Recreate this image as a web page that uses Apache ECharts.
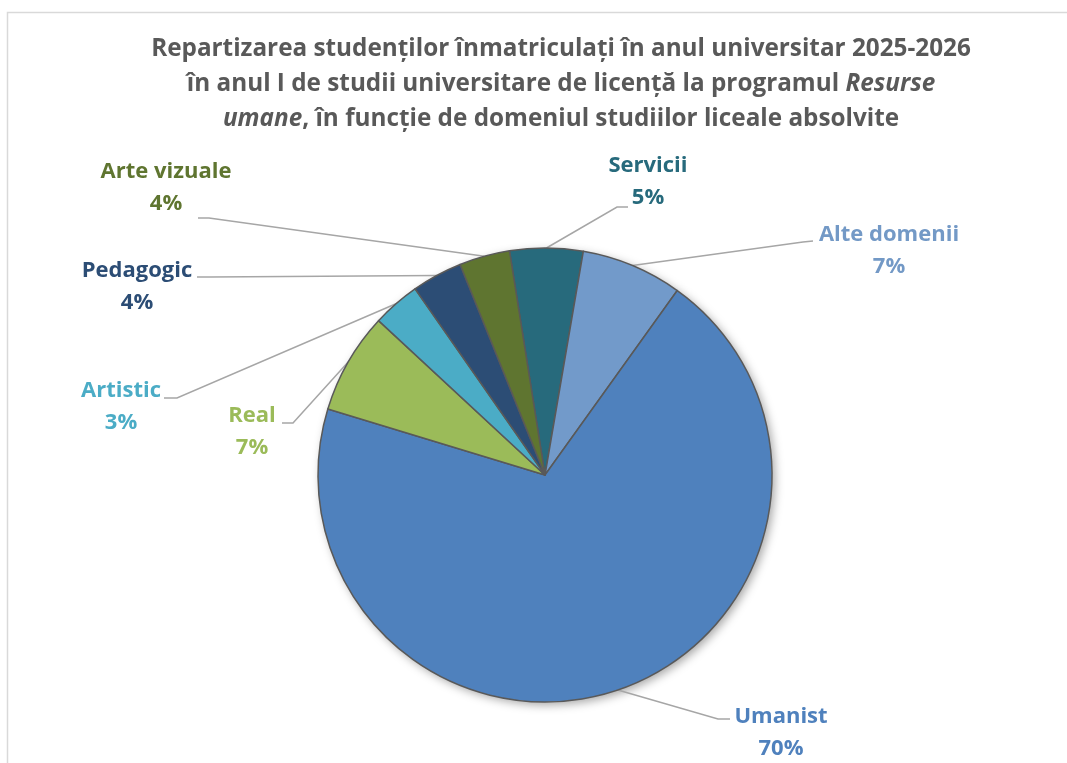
<!DOCTYPE html>
<html>
<head>
<meta charset="utf-8">
<script src="https://cdn.jsdelivr.net/npm/echarts@6/dist/echarts.min.js"></script>
<style>
  html, body { margin: 0; padding: 0; background: #fff; }
  #chart { width: 1067px; height: 763px; }
</style>
</head>
<body>
<div id="chart"></div>
<script>
// ---- data ----
const categories = ['Servicii', 'Alte domenii', 'Umanist', 'Real', 'Artistic', 'Pedagogic', 'Arte vizuale'];
const shares = [5.2, 7.2, 69.8, 7.2, 3.4, 3.6, 3.6];

// ---- styles ----
const sliceColors = ['#276A7C', '#729ACA', '#4F81BD', '#9BBB59', '#4BACC6', '#2C4D75', '#5F7530'];
const labelColors = ['#276A7C', '#7399C6', '#4F81BD', '#9BBB59', '#4BACC6', '#2C4D75', '#5F7530'];
// label block centre and leader line elbow / end (layout only)
const labelPlacement = [
  { c: [648, 182], elbow: [617, 207], end: [628, 207] },
  { c: [889, 251], elbow: [803, 242], end: [813, 241] },
  { c: [781, 733], elbow: [718, 719], end: [730, 719] },
  { c: [252, 432], elbow: [293, 423], end: [282, 423] },
  { c: [121, 407], elbow: [177, 398], end: [164, 398] },
  { c: [137, 287], elbow: [210, 277], end: [197, 277] },
  { c: [166, 188], elbow: [209, 218], end: [198, 218] }
];
const FONT = '"Open Sans", Lato, sans-serif';

const chart = echarts.init(document.getElementById('chart'), null, { renderer: 'canvas' });

const pieData = categories.map((name, i) => ({
  name: name,
  value: shares[i],
  itemStyle: { color: sliceColors[i] },
  label: { color: labelColors[i] }
}));

const option = {
  backgroundColor: '#ffffff',
  graphic: [{
    type: 'rect',
    shape: { x: 7.5, y: 12.5, width: 1100, height: 800 },
    style: { fill: 'none', stroke: '#D9D9D9', lineWidth: 1.5 },
    silent: true,
    z: -10
  }],
  title: {
    text: 'Repartizarea studenților înmatriculați în anul universitar 2025-2026\n' +
          'în anul I de studii universitare de licență la programul {i|Resurse}\n' +
          '{i|umane}, în funcție de domeniul studiilor liceale absolvite',
    left: 556,
    top: 27,
    textAlign: 'center',
    textStyle: {
      fontFamily: FONT,
      fontWeight: 'bold',
      fontSize: 24.3,
      color: '#595959',
      lineHeight: 35,
      rich: {
        i: { fontFamily: FONT, fontWeight: 'bold', fontStyle: 'italic', fontSize: 24.3, color: '#595959', lineHeight: 35 }
      }
    }
  },
  series: [
    {
      // shadow underlay
      type: 'pie',
      silent: true,
      center: [545, 475],
      radius: 227,
      startAngle: 99,
      clockwise: true,
      z: 1,
      label: { show: false },
      labelLine: { show: false },
      itemStyle: {
        color: '#ffffff',
        shadowBlur: 10,
        shadowOffsetX: 3,
        shadowOffsetY: 3,
        shadowColor: 'rgba(0,0,0,0.35)'
      },
      emphasis: { disabled: true },
      data: categories.map((name, i) => ({ name: name, value: shares[i] }))
    },
    {
      type: 'pie',
      center: [545, 475],
      radius: 227,
      startAngle: 99,
      clockwise: true,
      z: 2,
      avoidLabelOverlap: false,
      itemStyle: { borderColor: '#595959', borderWidth: 1.5 },
      emphasis: { disabled: true },
      label: {
        show: true,
        position: 'outside',
        fontFamily: FONT,
        fontWeight: 'bold',
        fontSize: 22,
        lineHeight: 32,
        align: 'center',
        formatter: p => p.name + '\n' + Math.round(p.percent) + '%'
      },
      labelLine: {
        show: true,
        lineStyle: { color: '#A6A6A6', width: 1.5 }
      },
      labelLayout: function (params) {
        const pl = labelPlacement[params.dataIndex];
        const start = params.labelLinePoints ? params.labelLinePoints[0] : pl.elbow;
        return {
          x: pl.c[0],
          y: pl.c[1],
          align: 'center',
          verticalAlign: 'middle',
          labelLinePoints: [start, pl.elbow, pl.end]
        };
      },
      data: pieData
    }
  ]
};
chart.setOption(option);
</script>
</body>
</html>
